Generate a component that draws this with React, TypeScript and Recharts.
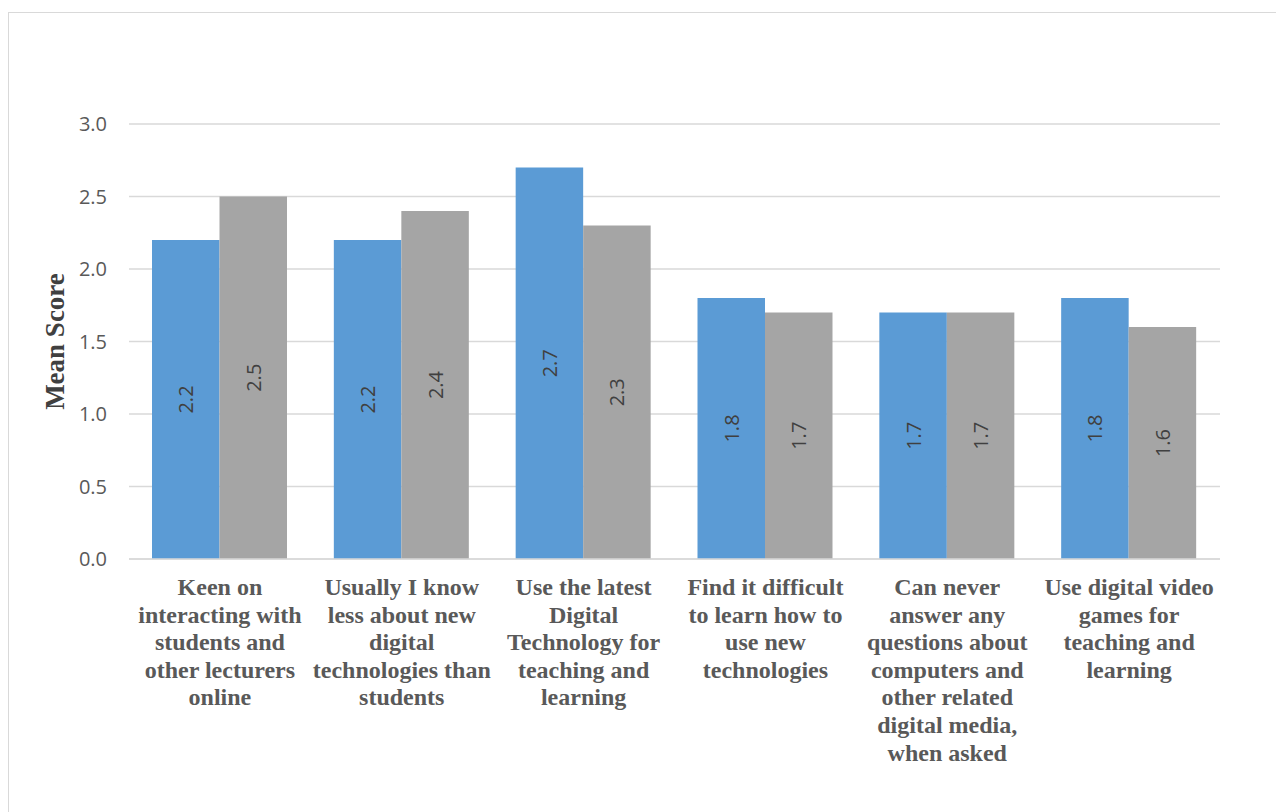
import { BarChart, Bar, XAxis, YAxis, CartesianGrid, LabelList } from "recharts"

const categoryLines: string[][] = [
  ["Keen on", "interacting with", "students and", "other lecturers", "online"],
  ["Usually I know", "less about new", "digital", "technologies than", "students"],
  ["Use the latest", "Digital", "Technology for", "teaching and", "learning"],
  ["Find it difficult", "to learn how to", "use new", "technologies"],
  ["Can never", "answer any", "questions about", "computers and", "other related", "digital media,", "when asked"],
  ["Use digital video", "games for", "teaching and", "learning"],
]
const categories = categoryLines.map((l) => l.join(" "))
const seriesA = [2.2, 2.2, 2.7, 1.8, 1.7, 1.8]
const seriesB = [2.5, 2.4, 2.3, 1.7, 1.7, 1.6]
const yTicks = [0, 0.5, 1, 1.5, 2, 2.5, 3]

const data = categories.map((c, i) => ({ category: c, a: seriesA[i], b: seriesB[i] }))

const sans = "'Open Sans', sans-serif"
const serif = "'Liberation Serif', 'Times New Roman', serif"

function CategoryTick({ x, y, payload }: any) {
  const idx = categories.indexOf(payload.value)
  const lines = idx >= 0 ? categoryLines[idx] : [payload.value]
  return (
    <text x={x} y={y} textAnchor="middle" fill="#595959" fontFamily={serif} fontWeight="bold" fontSize={24}>
      {lines.map((l, i) => (
        <tspan key={i} x={x} dy={i === 0 ? 28 : 27.6}>
          {l}
        </tspan>
      ))}
    </text>
  )
}

function BarValue({ x, y, width, height, value }: any) {
  const cx = x + width / 2
  const cy = y + height / 2
  return (
    <text
      x={cx}
      y={cy}
      transform={`rotate(-90 ${cx} ${cy})`}
      textAnchor="middle"
      dominantBaseline="central"
      fill="#404040"
      fontFamily={sans}
      fontSize={20}
    >
      {Number(value).toFixed(1)}
    </text>
  )
}

export default function App() {
  return (
    <div style={{ position: "absolute", left: 0, top: 0, width: 1276, height: 812, overflow: "hidden", background: "#fff" }}>
      <div
        style={{
          position: "absolute",
          left: 8,
          top: 12,
          width: 1300,
          height: 840,
          border: "1.5px solid #d9d9d9",
        }}
      />
      <div style={{ position: "absolute", left: 0, top: 0 }}>
        <BarChart
          width={1276}
          height={812}
          data={data}
          margin={{ top: 124, right: 56, bottom: 33, left: 69 }}
          barGap={0}
        >
          <CartesianGrid vertical={false} stroke="#d9d9d9" strokeWidth={1.5} />
          <XAxis
            dataKey="category"
            axisLine={{ stroke: "#d9d9d9", strokeWidth: 1.5 }}
            tickLine={false}
            interval={0}
            height={220}
            tick={<CategoryTick />}
          />
          <YAxis
            domain={[0, 3]}
            ticks={yTicks}
            width={60}
            axisLine={false}
            tickLine={false}
            tickMargin={16}
            tickFormatter={(v: number) => v.toFixed(1)}
            tick={{ fill: "#595959", fontSize: 20, fontFamily: sans }}
            label={{
              value: "Mean Score",
              angle: -90,
              position: "insideLeft",
              offset: -15,
              style: { textAnchor: "middle", fill: "#404040", fontFamily: serif, fontWeight: "bold", fontSize: 27 },
            }}
          />
          <Bar dataKey="a" name="Series 1" fill="#5B9BD5" barSize={67.5} isAnimationActive={false}>
            <LabelList dataKey="a" content={<BarValue />} />
          </Bar>
          <Bar dataKey="b" name="Series 2" fill="#A5A5A5" barSize={67.5} isAnimationActive={false}>
            <LabelList dataKey="b" content={<BarValue />} />
          </Bar>
        </BarChart>
      </div>
    </div>
  )
}
